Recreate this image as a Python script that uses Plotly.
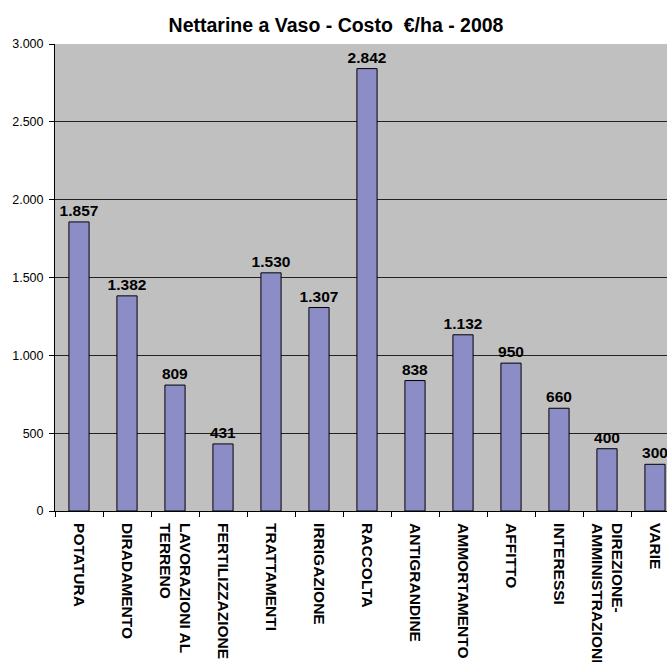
import plotly.graph_objects as go

categories = [
    "POTATURA", "DIRADAMENTO", "LAVORAZIONI AL<br>TERRENO", "FERTILIZZAZIONE",
    "TRATTAMENTI", "IRRIGAZIONE", "RACCOLTA", "ANTIGRANDINE", "AMMORTAMENTO",
    "AFFITTO", "INTERESSI", "DIREZIONE-<br>AMMINISTRAZIONE", "VARIE",
]
costs = [1857, 1382, 809, 431, 1530, 1307, 2842, 838, 1132, 950, 660, 400, 300]
y_ticks = [0, 500, 1000, 1500, 2000, 2500, 3000]

W, H = 667, 662

fig = go.Figure()
fig.add_trace(go.Bar(
    x=categories,
    y=costs,
    width=0.42,
    marker=dict(color="#8C8CC6", line=dict(color="black", width=1)),
    texttemplate="%{y:,d}",
    textposition="outside",
    constraintext="none",
    textfont=dict(family="Liberation Sans, Arial", size=15.5, color="black", weight="bold"),
    cliponaxis=False,
))

fig.update_layout(
    title=dict(
        text="<b>Nettarine a Vaso - Costo  €/ha - 2008</b>",
        x=336 / W, xanchor="center", xref="container",
        y=1 - 25 / H, yanchor="middle", yref="container",
        font=dict(family="Liberation Sans, Arial", size=19.5, color="black"),
    ),
    width=W, height=H,
    margin=dict(l=55, r=0, t=44, b=151, autoexpand=False),
    paper_bgcolor="white",
    plot_bgcolor="#C0C0C0",
    separators=",.",
    showlegend=False,
    font=dict(family="Liberation Sans, Arial", color="black"),
)
fig.update_xaxes(
    range=[-0.5, 12.25],
    automargin=False,
    tickangle=90,
    ticks="outside", tickson="boundaries", ticklen=5, tickcolor="black",
    ticklabelstandoff=8,
    showline=True, linecolor="black", linewidth=1,
    showgrid=False,
    tickfont=dict(size=15.5, weight="bold", color="black"),
)
fig.update_yaxes(
    range=[0, 3000],
    automargin=False,
    tickvals=y_ticks,
    tickformat=",d",
    ticks="outside", ticklen=5, tickcolor="black",
    ticklabelstandoff=3,
    showline=True, linecolor="black", linewidth=1,
    showgrid=True, gridcolor="#222222", gridwidth=1,
    zeroline=False,
    tickfont=dict(size=12.5, color="black"),
)

# drop the default page margin so the figure fills the window exactly
fig.write_html(
    "out.html",
    config={"displayModeBar": False},
    post_script="document.body.style.margin='0';document.body.style.overflow='hidden';",
)
